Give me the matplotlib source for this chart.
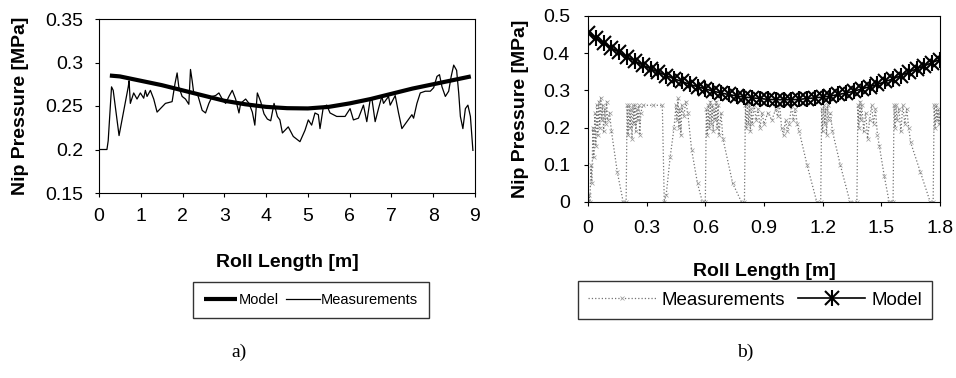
import numpy as np
import matplotlib
matplotlib.use('Agg')
import matplotlib.pyplot as plt

plt.rcParams['font.family'] = ['Liberation Sans', 'DejaVu Sans']

# ---- a) long roll, 0..9 m ----
a_model_x = [0.26, 0.5, 1.0, 1.5, 2.0, 2.5, 3.0, 3.5, 4.0, 4.5, 5.0, 5.5, 6.0, 6.5, 7.0, 7.5, 8.0, 8.5, 8.9]
a_model_y = [0.285, 0.284, 0.279, 0.274, 0.268, 0.262, 0.256, 0.252, 0.249, 0.2475, 0.2472, 0.249, 0.253, 0.258, 0.264, 0.270, 0.275, 0.280, 0.284]

a_meas_x = [0.0, 0.19, 0.22, 0.30, 0.34, 0.48, 0.70, 0.72, 0.75, 0.83, 0.91, 0.99, 1.07, 1.11, 1.15, 1.23,
            1.31, 1.39, 1.47, 1.59, 1.75, 1.82, 1.87, 1.91, 1.99, 2.07, 2.15, 2.19, 2.23, 2.27, 2.35, 2.47,
            2.55, 2.63, 2.71, 2.79, 2.87, 2.95, 3.03, 3.11, 3.19, 3.27, 3.35, 3.39, 3.51, 3.59, 3.67, 3.73,
            3.79, 3.87, 3.95, 4.03, 4.11, 4.19, 4.27, 4.33, 4.39, 4.45, 4.53, 4.65, 4.81, 4.93, 5.01, 5.09,
            5.17, 5.25, 5.29, 5.37, 5.45, 5.53, 5.69, 5.89, 6.01, 6.09, 6.21, 6.33, 6.41, 6.49, 6.53, 6.61,
            6.69, 6.77, 6.81, 6.93, 6.97, 7.09, 7.17, 7.25, 7.37, 7.49, 7.53, 7.61, 7.69, 7.81, 7.93, 8.01,
            8.09, 8.15, 8.21, 8.29, 8.37, 8.43, 8.49, 8.56, 8.61, 8.65, 8.71, 8.77, 8.83, 8.89, 8.95]
a_meas_y = [0.200, 0.200, 0.210, 0.272, 0.268, 0.216, 0.272, 0.279, 0.253, 0.265, 0.258, 0.265, 0.259, 0.268, 0.261, 0.268,
            0.258, 0.243, 0.247, 0.253, 0.255, 0.276, 0.288, 0.272, 0.261, 0.258, 0.252, 0.292, 0.279, 0.264, 0.265, 0.245,
            0.242, 0.253, 0.261, 0.262, 0.265, 0.258, 0.253, 0.261, 0.268, 0.258, 0.242, 0.253, 0.258, 0.253, 0.243, 0.228,
            0.265, 0.255, 0.241, 0.235, 0.233, 0.253, 0.238, 0.234, 0.219, 0.222, 0.226, 0.215, 0.209, 0.222, 0.234, 0.228,
            0.242, 0.240, 0.224, 0.249, 0.251, 0.242, 0.238, 0.238, 0.247, 0.234, 0.236, 0.251, 0.232, 0.257, 0.259, 0.232,
            0.247, 0.261, 0.253, 0.261, 0.251, 0.262, 0.242, 0.224, 0.232, 0.240, 0.236, 0.253, 0.265, 0.267, 0.267, 0.271,
            0.284, 0.286, 0.272, 0.261, 0.267, 0.284, 0.297, 0.291, 0.265, 0.238, 0.224, 0.247, 0.251, 0.238, 0.199]

a_xticks = [0, 1, 2, 3, 4, 5, 6, 7, 8, 9]
a_yticks = [0.15, 0.2, 0.25, 0.3, 0.35]
a_ylabels = ['0.15', '0.2', '0.25', '0.3', '0.35']

# ---- b) short roll, 0..1.8 m ----
b_model_x = [0.00, 0.04, 0.08, 0.12, 0.16, 0.20, 0.24, 0.28, 0.32, 0.36, 0.40, 0.44, 0.48, 0.52, 0.56, 0.60,
             0.64, 0.68, 0.72, 0.76, 0.80, 0.84, 0.88, 0.92, 0.96, 1.00, 1.04, 1.08, 1.12, 1.16, 1.20, 1.24,
             1.28, 1.32, 1.36, 1.40, 1.44, 1.48, 1.52, 1.56, 1.60, 1.64, 1.68, 1.72, 1.76, 1.80]
b_model_y = [0.455, 0.441, 0.427, 0.414, 0.402, 0.390, 0.379, 0.368, 0.358, 0.349, 0.340, 0.331, 0.324, 0.316, 0.310, 0.304,
             0.298, 0.293, 0.289, 0.285, 0.282, 0.280, 0.278, 0.276, 0.275, 0.275, 0.275, 0.276, 0.278, 0.280, 0.282, 0.285,
             0.289, 0.293, 0.298, 0.304, 0.310, 0.316, 0.324, 0.331, 0.340, 0.349, 0.358, 0.366, 0.375, 0.383]

b_meas_x = [0.000, 0.005, 0.010, 0.015, 0.020, 0.025, 0.030, 0.035, 0.040, 0.045, 0.050, 0.055, 0.060, 0.065, 0.070,
            0.075, 0.080, 0.085, 0.090, 0.095, 0.100, 0.110, 0.120, 0.150, 0.180,
            0.195, 0.200, 0.205, 0.210, 0.215, 0.220, 0.225, 0.230, 0.235, 0.240, 0.245, 0.250, 0.255, 0.260,
            0.265, 0.270, 0.280, 0.330, 0.380, 0.390,
            0.400, 0.420, 0.440, 0.450, 0.455, 0.460, 0.465, 0.470, 0.475, 0.480, 0.490, 0.500, 0.510, 0.530,
            0.560, 0.585,
            0.600, 0.605, 0.610, 0.615, 0.620, 0.625, 0.630, 0.635, 0.640, 0.645, 0.650, 0.655, 0.660, 0.665,
            0.670, 0.680, 0.690, 0.740, 0.785,
            0.800, 0.805, 0.810, 0.815, 0.820, 0.825, 0.830, 0.835, 0.840, 0.850, 0.860, 0.870, 0.880, 0.890,
            0.900, 0.920, 0.940, 0.960, 0.970, 0.980, 0.990, 1.000, 1.010, 1.020, 1.030, 1.040, 1.050, 1.060,
            1.070, 1.080, 1.120, 1.170,
            1.190, 1.195, 1.200, 1.205, 1.210, 1.215, 1.220, 1.225, 1.230, 1.240, 1.250, 1.290, 1.340,
            1.375, 1.380, 1.385, 1.390, 1.395, 1.400, 1.410, 1.420, 1.430, 1.440, 1.450, 1.460, 1.470, 1.480,
            1.490, 1.515, 1.540,
            1.560, 1.565, 1.570, 1.575, 1.580, 1.590, 1.600, 1.610, 1.620, 1.630, 1.640, 1.650, 1.700, 1.750,
            1.765, 1.770, 1.775, 1.780, 1.785, 1.790, 1.795, 1.800]
b_meas_y = [0.00, 0.02, 0.00, 0.10, 0.05, 0.20, 0.12, 0.24, 0.15, 0.26, 0.18, 0.27, 0.20, 0.28, 0.22,
            0.26, 0.19, 0.25, 0.21, 0.27, 0.22, 0.24, 0.19, 0.08, 0.00,
            0.00, 0.26, 0.18, 0.26, 0.20, 0.25, 0.17, 0.26, 0.21, 0.26, 0.19, 0.25, 0.22, 0.26,
            0.18, 0.24, 0.26, 0.26, 0.26, 0.00,
            0.02, 0.12, 0.20, 0.26, 0.22, 0.28, 0.20, 0.25, 0.18, 0.26, 0.23, 0.27, 0.24, 0.14,
            0.05, 0.00,
            0.00, 0.25, 0.18, 0.26, 0.20, 0.27, 0.21, 0.26, 0.19, 0.25, 0.22, 0.27, 0.20, 0.26,
            0.18, 0.24, 0.17, 0.05, 0.00,
            0.00, 0.26, 0.20, 0.27, 0.21, 0.26, 0.19, 0.25, 0.21, 0.26, 0.22, 0.25, 0.20, 0.24,
            0.21, 0.24, 0.22, 0.25, 0.23, 0.26, 0.20, 0.18, 0.22, 0.19, 0.21, 0.26, 0.22, 0.25,
            0.21, 0.19, 0.10, 0.00,
            0.00, 0.25, 0.19, 0.26, 0.21, 0.25, 0.18, 0.26, 0.22, 0.24, 0.19, 0.10, 0.00,
            0.00, 0.26, 0.20, 0.27, 0.22, 0.26, 0.19, 0.24, 0.17, 0.22, 0.26, 0.21, 0.25, 0.18,
            0.15, 0.07, 0.00,
            0.00, 0.26, 0.20, 0.26, 0.22, 0.25, 0.19, 0.26, 0.21, 0.25, 0.20, 0.16, 0.08, 0.00,
            0.00, 0.26, 0.20, 0.26, 0.22, 0.25, 0.21, 0.24]

b_xticks = [0, 0.3, 0.6, 0.9, 1.2, 1.5, 1.8]
b_xlabels = ['0', '0.3', '0.6', '0.9', '1.2', '1.5', '1.8']
b_yticks = [0, 0.1, 0.2, 0.3, 0.4, 0.5]
b_ylabels = ['0', '0.1', '0.2', '0.3', '0.4', '0.5']

fig = plt.figure(figsize=(9.56, 3.78), dpi=100)

# left panel
ax1 = fig.add_axes([99/956, 1-193/378, 376/956, 174/378])
l_model, = ax1.plot(a_model_x, a_model_y, color='black', lw=3.0, solid_capstyle='butt')
l_meas, = ax1.plot(a_meas_x, a_meas_y, color='black', lw=0.9)
ax1.set_xlim(0, 9)
ax1.set_ylim(0.15, 0.35)
ax1.set_xticks(a_xticks)
ax1.set_yticks(a_yticks)
ax1.set_yticklabels(a_ylabels)
ax1.tick_params(labelsize=14, direction='out', length=3, width=0.8, pad=8)
ax1.set_xlabel('Roll Length [m]', fontsize=14, fontweight='bold', labelpad=21)
ax1.set_ylabel('Nip Pressure [MPa]', fontsize=14, fontweight='bold', labelpad=12)
leg1 = fig.legend([l_model, l_meas], ['Model', 'Measurements'], loc='center',
                  bbox_to_anchor=(311/956, 1-300/378), ncol=2, frameon=True, fancybox=False,
                  prop={'size': 10.5}, handlelength=2.3, handletextpad=0.1, columnspacing=0.5,
                  borderpad=0.75, borderaxespad=0)
leg1.get_frame().set_edgecolor('black')
leg1.get_frame().set_linewidth(1.0)

# right panel
ax2 = fig.add_axes([588/956, 1-202/378, 352/956, 186/378])
l_bmeas, = ax2.plot(b_meas_x, b_meas_y, color='0.45', lw=0.9, ls=':', marker='x', ms=3,
                    mew=0.5, mec='0.6')
l_bmodel, = ax2.plot(b_model_x, b_model_y, color='black', lw=1.2, marker='x', ms=10, mew=1.5)
l_bmodel_v, = ax2.plot(b_model_x, b_model_y, ls='none', color='black', marker='|', ms=12, mew=1.5)
ax2.set_xlim(0, 1.8)
ax2.set_ylim(0, 0.5)
ax2.set_xticks(b_xticks)
ax2.set_xticklabels(b_xlabels)
ax2.set_yticks(b_yticks)
ax2.set_yticklabels(b_ylabels)
ax2.tick_params(labelsize=14, direction='out', length=3, width=0.8, pad=10)
ax2.set_xlabel('Roll Length [m]', fontsize=14, fontweight='bold', labelpad=19)
ax2.set_ylabel('Nip Pressure [MPa]', fontsize=14, fontweight='bold', labelpad=10)
leg2 = fig.legend([l_bmeas, (l_bmodel, l_bmodel_v)], ['Measurements', 'Model'], loc='center',
                  bbox_to_anchor=(755/956, 1-300/378), ncol=2, frameon=True, fancybox=False,
                  prop={'size': 13.5}, handlelength=3.6, handletextpad=0.3, columnspacing=0.7,
                  borderpad=0.55, borderaxespad=0)
leg2.get_frame().set_edgecolor('black')
leg2.get_frame().set_linewidth(1.0)

fig.text(239/956, 1-352/378, 'a)', ha='center', va='center', fontsize=14, family='Liberation Serif')
fig.text(745/956, 1-352/378, 'b)', ha='center', va='center', fontsize=14, family='Liberation Serif')

plt.savefig('out.png', dpi=100)
